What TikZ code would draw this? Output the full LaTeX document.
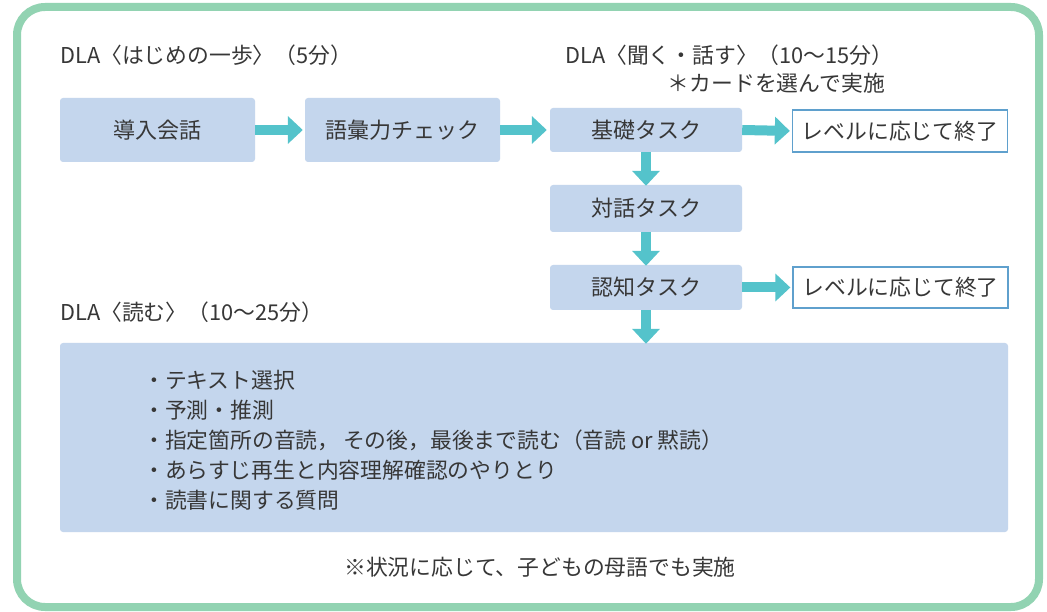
\documentclass[tikz,border=0pt]{standalone}
\usepackage{fontspec}
\setmainfont{Noto Sans CJK JP}
\usetikzlibrary{arrows.meta}
\definecolor{framegreen}{RGB}{146,211,178}
\definecolor{boxblue}{RGB}{196,214,237}
\definecolor{arrowteal}{RGB}{84,195,203}
\definecolor{outlineblue}{RGB}{95,160,205}
\definecolor{txt}{RGB}{55,55,55}
\tikzset{
  stepbox/.style={fill=boxblue, rounded corners=3pt, text=txt, font=\fontsize{22}{26}\selectfont, inner sep=0pt},
  endbox/.style={draw=outlineblue, line width=1.3pt, fill=white, text=txt, font=\fontsize{21.8}{26}\selectfont, inner sep=0pt},
  flow/.style={draw=arrowteal, line width=10pt, -{Triangle[length=15pt,width=27pt]}, color=arrowteal},
  title/.style={anchor=west, text=txt, font=\fontsize{21.8}{25}\selectfont, inner sep=0pt},
  item/.style={anchor=west, text=txt, font=\fontsize{21.8}{26}\selectfont, inner sep=0pt},
}
\begin{document}
\begin{tikzpicture}[x=1pt, y=-1pt]
\fill[white] (0,0) rectangle (1047,612);
\useasboundingbox (0,0) rectangle (1047,612);
\draw[framegreen, line width=8pt, rounded corners=28pt] (17,7) rectangle (1039,607);

\node[title] (t1) at (60,55) {DLA〈はじめの一歩〉（5分）};
\node[title] (t2) at (565,55) {DLA〈聞く・話す〉（10〜15分）};
\node[title, anchor=east] (t2n) at (885,83) {＊カードを選んで実施};
\node[title] (t3) at (60,312) {DLA〈読む〉（10〜25分）};

\node[stepbox, minimum width=195pt, minimum height=64pt] (a) at (157.5,130) {導入会話};
\node[stepbox, minimum width=195pt, minimum height=64pt] (b) at (402.5,130) {語彙力チェック};
\node[stepbox, minimum width=192pt, minimum height=44pt] (c) at (646,130) {基礎タスク};
\node[endbox, minimum width=215pt, minimum height=42pt] (e1) at (900,131) {レベルに応じて終了};
\node[stepbox, minimum width=192pt, minimum height=47pt] (d) at (646,208.5) {対話タスク};
\node[stepbox, minimum width=192pt, minimum height=45pt] (f) at (646,287.5) {認知タスク};
\node[endbox, minimum width=215pt, minimum height=41pt] (e2) at (900.5,287.5) {レベルに応じて終了};

\node[stepbox, minimum width=948pt, minimum height=189pt] (g) at (534,437.5) {};
\node[item] (l1) at (143,380) {・テキスト選択};
\node[item] (l2) at (143,410) {・予測・推測};
\node[item] (l3) at (143,440) {・指定箇所の音読，\,その後，最後まで読む（音読 or 黙読）};
\node[item] (l4) at (143,470) {・あらすじ再生と内容理解確認のやりとり};
\node[item] (l5) at (143,500) {・読書に関する質問};

\node[text=txt, font=\fontsize{21.8}{26}\selectfont, inner sep=0pt] (note) at (540,567) {※状況に応じて、子どもの母語でも実施};

\draw[flow, shorten >=2pt] (a.east) -- (b.west);
\draw[flow, shorten >=3pt] (b.east) -- (c.west);
\draw[flow, shorten >=2pt] (c.east) -- (e1.west);
\draw[flow, shorten >=-1pt] (c.south) -- (d.north);
\draw[flow, shorten >=-1pt] (d.south) -- (f.north);
\draw[flow, shorten >=2pt] (f.east) -- (e2.west);
\draw[flow, shorten >=-1pt] (f.south) -- (f.south |- g.north);
\end{tikzpicture}
\end{document}
